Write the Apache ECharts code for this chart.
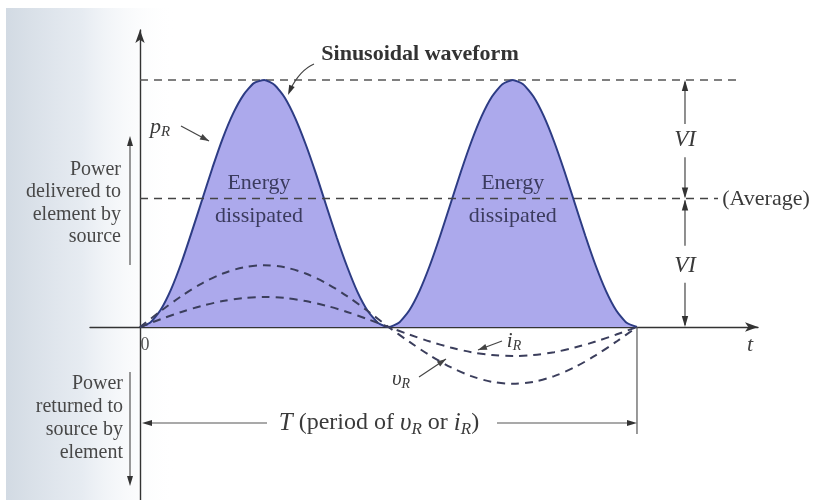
<!DOCTYPE html>
<html>
<head>
<meta charset="utf-8">
<script src="https://cdn.jsdelivr.net/npm/echarts@6/dist/echarts.min.js"></script>
<style>
  html, body { margin: 0; padding: 0; background: #ffffff; }
  #chart { width: 818px; height: 500px; }
</style>
</head>
<body>
<div id="chart"></div>
<script>
// Instantaneous power p_R (in units of VI), one sample every T/48 across one period T
const powerStep = 1 / 48;
const powerValues = [
  0, 0.036, 0.14, 0.305, 0.52, 0.77, 1.03, 1.29, 1.53, 1.73, 1.88, 1.975, 2.0,
  1.96, 1.855, 1.69, 1.48, 1.24, 0.98, 0.725, 0.49, 0.285, 0.13, 0.033, 0,
  0.034, 0.134, 0.293, 0.5, 0.741, 1.0, 1.259, 1.5, 1.707, 1.866, 1.966, 2.0,
  1.966, 1.866, 1.707, 1.5, 1.259, 1.0, 0.741, 0.5, 0.293, 0.134, 0.034, 0
];

// Voltage v_R and current i_R, one sample every T/24
const waveStep = 1 / 24;
const voltageValues = [
  0, 0.129, 0.25, 0.354, 0.433, 0.483, 0.5, 0.483, 0.433, 0.354, 0.25, 0.129, 0,
  -0.119, -0.23, -0.325, -0.398, -0.444, -0.46, -0.444, -0.398, -0.325, -0.23, -0.119, 0
];
const currentValues = [
  0, 0.063, 0.122, 0.172, 0.21, 0.235, 0.243, 0.235, 0.21, 0.172, 0.122, 0.063, 0,
  -0.061, -0.118, -0.166, -0.204, -0.227, -0.235, -0.227, -0.204, -0.166, -0.118, -0.061, 0
];

// Reference levels (units of VI) and how far their dashed guides run along t
const peakPower = 2.0;
const averagePower = 1.04;
const peakGuideEnd = 1.203;
const averageGuideEnd = 1.163;
const dimensionT = 1.0966;   // where the VI dimension arrows stand
const period = 1.0;

const toPairs = (values, step) => values.map((v, i) => [i * step, v]);

const serif = '"Liberation Serif", "DejaVu Serif", serif';
const ink = '#3a3a3a';
const curveInk = '#2d3c84';
const dashInk = '#3b3e5c';

const chart = echarts.init(document.getElementById('chart'), null, { renderer: 'canvas' });

chart.setOption({
  animation: false,
  backgroundColor: '#ffffff',
  grid: { left: 90, top: 30, width: 668, height: 470, containLabel: false },
  xAxis: {
    type: 'value', min: -0.1006, max: 1.2435,
    axisLine: { show: true, onZero: true, symbol: ['none', 'arrow'], symbolSize: [7, 13],
      lineStyle: { color: '#333', width: 1.4 } },
    axisTick: { show: false }, axisLabel: { show: false }, splitLine: { show: false }
  },
  yAxis: {
    type: 'value', min: -1.4008, max: 2.4049,
    axisLine: { show: true, onZero: true, symbol: ['none', 'arrow'], symbolSize: [7, 13],
      lineStyle: { color: '#333', width: 1.4 } },
    axisTick: { show: false }, axisLabel: { show: false }, splitLine: { show: false }
  },
  series: [
    {
      name: 'peak', type: 'line', symbol: 'none', z: 1,
      data: [[0, peakPower], [peakGuideEnd, peakPower]],
      lineStyle: { color: '#555', width: 1.3, type: [8, 6] }
    },
    {
      name: 'pR', type: 'line', symbol: 'none', z: 2, smooth: 0.2,
      data: toPairs(powerValues, powerStep),
      lineStyle: { color: curveInk, width: 2 },
      areaStyle: { color: '#aca9ec', opacity: 1, origin: 0 }
    },
    {
      name: 'average', type: 'line', symbol: 'none', z: 3,
      data: [[0, averagePower], [averageGuideEnd, averagePower]],
      lineStyle: { color: '#444', width: 1.4, type: [8, 6] }
    },
    {
      name: 'vR', type: 'line', symbol: 'none', z: 4, smooth: 0.3,
      data: toPairs(voltageValues, waveStep),
      lineStyle: { color: dashInk, width: 2, type: [8, 6] }
    },
    {
      name: 'iR', type: 'line', symbol: 'none', z: 4, smooth: 0.3,
      data: toPairs(currentValues, waveStep),
      lineStyle: { color: dashInk, width: 2, type: [8, 6] }
    }
  ]
});

// ---- annotations: labels, dimension arrows, pointers ----
const px = (t, v) => chart.convertToPixel({ gridIndex: 0 }, [t, v]);

function head(x, y, angle, len, w, color) {
  len = len || 10; w = w || 3.2;
  const c = Math.cos(angle), s = Math.sin(angle);
  return {
    type: 'polygon', silent: true, z: 20,
    shape: { points: [[x, y], [x - len * c + w * s, y - len * s - w * c], [x - len * c - w * s, y - len * s + w * c]] },
    style: { fill: color || '#333' }
  };
}
function seg(x1, y1, x2, y2, color, width) {
  return { type: 'line', silent: true, z: 20,
    shape: { x1, y1, x2, y2 }, style: { stroke: color || '#444', lineWidth: width || 1.2 } };
}
function arrow(x1, y1, x2, y2, color, width, len, w) {
  const a = Math.atan2(y2 - y1, x2 - x1);
  return [seg(x1, y1, x2, y2, color, width), head(x2, y2, a, len, w, color)];
}
function label(text, x, y, opts) {
  return { type: 'text', silent: true, z: 21, x, y,
    style: Object.assign({ text, font: '20px ' + serif, fill: ink, align: 'center', verticalAlign: 'middle' }, opts || {}) };
}
const richFor = (size) => ({
  it: { fontFamily: serif, fontStyle: 'italic', fontSize: size, fill: ink },
  sub: { fontFamily: serif, fontStyle: 'italic', fontSize: Math.round(size * 0.68), fill: ink, padding: [Math.round(size * 0.5), 0, 0, 0] }
});

const [xDim] = px(dimensionT, 0);
const yPeak = px(0, peakPower)[1];
const yAvg = px(0, averagePower)[1];
const [x0, yBase] = px(0, 0);
const [xEnd] = px(period, 0);
const upT = -Math.PI / 2, downT = Math.PI / 2;

const elements = [
  // soft paper shading along the left margin
  { type: 'rect', silent: true, z: -10,
    shape: { x: 6, y: 8, width: 170, height: 492 },
    style: { fill: new echarts.graphic.LinearGradient(0, 0, 1, 0, [
      { offset: 0, color: '#d2dae3' }, { offset: 0.45, color: 'rgba(226,232,239,0.85)' }, { offset: 1, color: 'rgba(255,255,255,0)' }]) } },

  // VI dimension arrows
  seg(xDim, yPeak + 2, xDim, yPeak + 44), head(xDim, yPeak, upT, 11, 3.2),
  label('VI', xDim, (yPeak + yAvg) / 2 + 1, { font: 'italic 23px ' + serif }),
  seg(xDim, (yPeak + yAvg) / 2 + 18, xDim, yAvg - 2), head(xDim, yAvg, downT, 11, 3.2),
  seg(xDim, yAvg + 2, xDim, (yAvg + yBase) / 2 - 17), head(xDim, yAvg + 1, upT, 11, 3.2),
  label('VI', xDim, (yAvg + yBase) / 2 + 3, { font: 'italic 23px ' + serif }),
  seg(xDim, (yAvg + yBase) / 2 + 20, xDim, yBase - 2), head(xDim, yBase, downT, 11, 3.2),
  label('(Average)', 766, yAvg + 1, { font: '22px ' + serif }),

  // delivered / returned arrows on the left
  seg(130, 265, 130, 142, '#555', 1.2), head(130, 136, upT, 10, 3),
  seg(130, 372, 130, 480, '#555', 1.2), head(130, 486, downT, 10, 3),
  label('Power\ndelivered to\nelement by\nsource', 121, 203, { align: 'right', lineHeight: 22.5, font: '20px ' + serif, fill: '#484848' }),
  label('Power\nreturned to\nsource by\nelement', 123, 418, { align: 'right', lineHeight: 23, font: '20px ' + serif, fill: '#484848' }),

  // axis markers
  label('0', x0 + 5, yBase + 18, { font: '18px ' + serif, fill: '#555' }),
  label('t', 750, yBase + 18, { font: 'italic 22px ' + serif, fill: '#444' }),

  // period dimension
  seg(xEnd, yBase, xEnd, 434, '#555', 1.2),
  seg(267, 423, 146, 423, '#555', 1.2), head(x0 + 2, 423, Math.PI, 10, 3),
  seg(497, 423, xEnd - 6, 423, '#555', 1.2), head(xEnd, 423, 0, 10, 3),
  { type: 'text', silent: true, z: 21, x: 379, y: 423,
    style: { text: '{it|T} (period of {it|υ}{sub|R} or {it|i}{sub|R})', font: '24px ' + serif, fill: ink,
      align: 'center', verticalAlign: 'middle', rich: richFor(25) } },

  // curve captions
  label('Sinusoidal waveform', 420, 54, { font: 'bold 22px ' + serif, fill: '#333' }),
  { type: 'bezierCurve', silent: true, z: 20,
    shape: { x1: 314, y1: 64, x2: 290, y2: 90, cpx1: 300, cpy1: 70 },
    style: { stroke: '#444', lineWidth: 1.2, fill: 'none' } },
  head(288, 95, Math.atan2(28, -12), 10, 3),
  { type: 'text', silent: true, z: 21, x: 160, y: 127,
    style: { text: '{it|p}{sub|R}', font: '21px ' + serif, fill: ink, align: 'center', verticalAlign: 'middle', rich: richFor(22) } },
  ...arrow(181, 126, 209, 141, '#444', 1.2, 9, 3),

  label('Energy\ndissipated', 259, 200, { font: '22px ' + serif, fill: '#3b3b5e', lineHeight: 33 }),
  label('Energy\ndissipated', px(0.75, 0)[0], 200, { font: '22px ' + serif, fill: '#3b3b5e', lineHeight: 33 }),

  { type: 'text', silent: true, z: 21, x: 514, y: 341,
    style: { text: '{it|i}{sub|R}', font: '21px ' + serif, fill: ink, align: 'center', verticalAlign: 'middle', rich: richFor(21) } },
  ...arrow(502, 341, 478, 350, '#444', 1.2, 9, 3),
  { type: 'text', silent: true, z: 21, x: 401, y: 379,
    style: { text: '{it|υ}{sub|R}', font: '21px ' + serif, fill: ink, align: 'center', verticalAlign: 'middle', rich: richFor(21) } },
  ...arrow(419, 377, 446, 359, '#444', 1.2, 9, 3)
];

chart.setOption({ graphic: { elements } });
</script>
</body>
</html>
